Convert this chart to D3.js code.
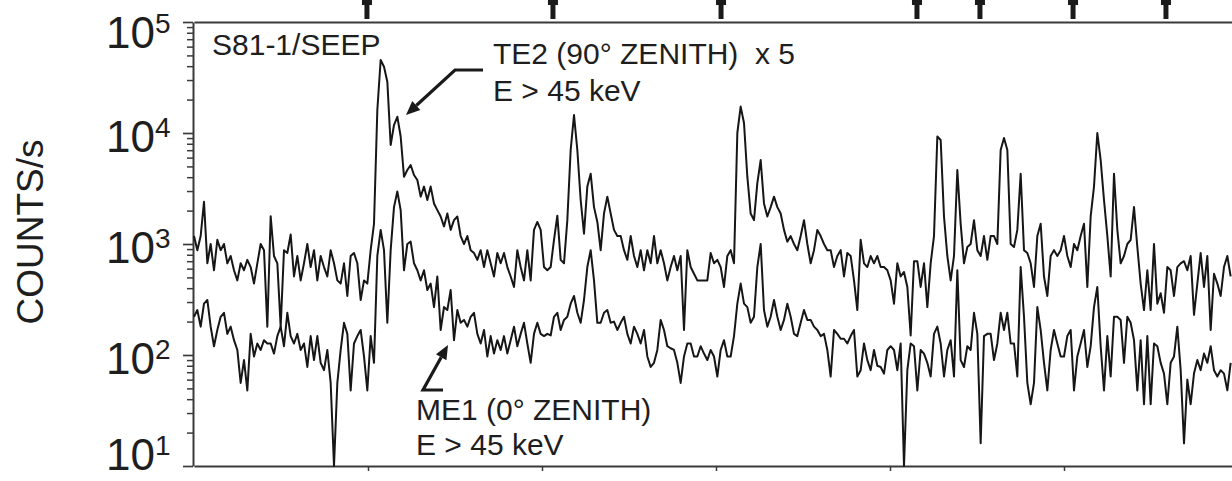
<!DOCTYPE html>
<html>
<head>
<meta charset="utf-8">
<script src="https://cdn.jsdelivr.net/npm/d3@7"></script>
<style>
  body { margin: 0; background: #fff; }
  svg text { font-family: "Liberation Sans", Arial, Helvetica, sans-serif; fill: #1e1e1e; }
</style>
</head>
<body>
<svg id="chart" width="1232" height="481"></svg>
<script>
// TE2 (90 deg zenith) x 5, E > 45 keV  -- counts/s, one sample every 1/52.2 tick unit
const te2Counts = [
  1180, 880, 1180, 2400, 670, 1000, 580, 1090, 880, 1000,
  670, 780, 580, 470, 670, 580, 720, 620, 440, 670,
  1000, 880, 180, 1780, 780, 670, 180, 880, 830, 1220,
  510, 780, 470, 670, 1000, 620, 880, 470, 780, 620,
  510, 880, 670, 470, 440, 670, 340, 780, 830, 670,
  313, 470, 440, 880, 1520, 16100, 45500, 39500, 29000, 7800,
  11800, 14000, 9300, 4040, 4640, 5150, 4180, 3770, 2670, 3290,
  2490, 3290, 2320, 2020, 1770, 1440, 1880, 1340, 1640, 1770,
  1180, 1000, 1180, 880, 830, 720, 880, 620, 880, 670,
  510, 830, 670, 830, 620, 510, 410, 880, 620, 470,
  880, 470, 1340, 1580, 1340,
  620, 580, 620, 1090, 1800, 720, 670, 1640, 7030, 14500,
  7030, 2490, 1240, 3290, 4300, 2150, 1580, 880, 1880, 2670,
  1880, 1340, 1180, 1180, 880, 720, 1180, 780, 620, 880,
  580, 880, 670, 1180, 670, 880, 670, 470, 620, 780,
  580, 780, 168, 880, 620, 540, 470, 470, 470, 470,
  830, 670, 720, 620, 410, 780, 880, 670, 10000, 17300,
  12300, 4040, 1880, 1640, 3540, 5700, 2320, 1770, 2150, 2670,
  2150, 1880, 1340, 1050, 1180, 1000, 880, 1180, 1640, 1000,
  670, 880, 1340, 1180, 1000, 880, 880, 620, 780, 880,
  510, 830, 780, 470, 254, 1090, 670, 620, 780, 670,
  780, 620,
  620, 580, 470, 290, 670, 510, 560, 410, 150, 700,
  700, 410, 670, 270, 670, 1180, 9300, 8650, 1770, 780,
  470, 780, 4640, 1520, 670, 940, 1000, 1640, 880, 780,
  1180, 720, 1180, 1180, 1000, 7030, 9000, 7030, 1000, 940,
  1340, 4300, 880, 830, 670, 410, 1180, 1520, 510, 340,
  780, 880, 780, 880, 1180, 780, 620, 1000, 880, 1180,
  1520, 410, 1770, 3290, 10000, 5700, 2490, 1180, 510, 4300,
  1340, 670, 780, 1000, 1090, 2150, 940, 440, 254, 580,
  254, 1000, 290, 360, 240, 620, 580, 340, 620, 670,
  700, 580, 780, 230, 440, 830, 410, 780, 168, 540,
  440, 340, 620, 780, 510
];

// ME1 (0 deg zenith), E > 45 keV
const me1Counts = [
  221, 254, 180, 290, 313, 180, 120, 168, 221, 240,
  155, 180, 136, 111, 56, 90, 48, 155, 97, 127,
  111, 136, 127, 127, 103, 148, 180, 120, 240, 148,
  127, 155, 111, 127, 78, 148, 90, 148, 85, 73,
  111, 56, 10, 56, 111, 195, 155, 48, 127, 148,
  168, 97, 48, 148, 85, 780, 1340, 880, 195, 880,
  2150, 2970, 2020, 580, 1000, 1050, 670, 580, 470, 580,
  385, 440, 270, 510, 168, 270, 254, 385, 136, 254,
  195, 207, 180, 221, 240, 155, 127, 168, 97, 148,
  103, 136, 111, 148, 103, 136, 180, 120, 155, 195,
  127, 85, 155, 195, 155,
  148, 155, 150, 221, 240, 168, 207, 221, 290, 340,
  240, 195, 313, 620, 880, 470, 195, 195, 240, 254,
  195, 200, 168, 195, 221, 155, 127, 180, 155, 127,
  168, 97, 78, 85, 111, 207, 168, 120, 115, 111,
  85, 56, 97, 127, 127, 97, 97, 120, 103, 90,
  111, 97, 64, 111, 136, 97, 97, 148, 290, 440,
  290, 270, 195, 221, 620, 1000, 254, 180, 221, 313,
  221, 168, 207, 290, 221, 155, 148, 195, 254, 207,
  207, 180, 168, 148, 155, 111, 64, 168, 155, 140,
  140, 127, 148, 168, 64, 73, 127, 90, 73, 111,
  80, 78,
  68, 111, 120, 111, 73, 127, 10, 73, 127, 120,
  48, 111, 103, 85, 64, 155, 180, 127, 64, 111,
  136, 64, 580, 90, 78, 120, 111, 240, 155, 16,
  148, 155, 155, 90, 127, 240, 168, 240, 127, 127,
  64, 620, 221, 56, 36, 56, 270, 168, 85, 48,
  111, 168, 127, 97, 97, 148, 168, 48, 97, 127,
  168, 78, 120, 270, 410, 120, 48, 148, 64, 221,
  221, 207, 85, 221, 195, 136, 48, 136, 36, 148,
  36, 127, 120, 85, 68, 36, 85, 97, 180, 73,
  16, 60, 36, 68, 90, 73, 103, 85, 120, 73,
  64, 73, 68, 48, 85
];

const samplesPerUnit = 52.2;
const yTickValues = [10, 100, 1000, 10000, 100000];
const xTickValues = [1, 2, 3, 4, 5];
const eventMarkers = [0.994, 2.063, 3.029, 4.155, 4.517, 5.052, 5.586];

const svg = d3.select('#chart');
const plotLeft = 194, plotTop = 22, plotBottom = 466;

const x = d3.scaleLinear().domain([0, 6]).range([plotLeft, plotLeft + 6 * 174]);
const y = d3.scaleLog().domain([10, 1e5]).range([plotBottom, plotTop]);

// minor log ticks
const minorTicks = [];
[10, 100, 1000, 10000].forEach(function(d) {
  for (let k = 2; k <= 9; k++) minorTicks.push(d * k);
});

const axisColour = '#3a3a3a';

svg.append('g')
   .attr('transform', 'translate(' + (plotLeft - 1) + ',0)')
   .style('color', axisColour)
   .call(d3.axisLeft(y).tickValues(minorTicks).tickSize(6).tickSizeOuter(0).tickFormat(''))
   .call(function(g) { g.select('.domain').attr('stroke-width', 2) })
   .call(function(g) { g.selectAll('.tick line').attr('stroke-width', 1.5) });

svg.append('g')
   .attr('transform', 'translate(' + (plotLeft - 1) + ',0)')
   .style('color', axisColour)
   .call(d3.axisLeft(y).tickValues(yTickValues).tickSize(10).tickSizeOuter(0).tickFormat(''))
   .call(function(g) { g.select('.domain').remove() })
   .call(function(g) { g.selectAll('.tick line').attr('stroke-width', 1.7) });

svg.append('g')
   .attr('transform', 'translate(0,' + plotBottom + ')')
   .style('color', axisColour)
   .call(d3.axisBottom(x).tickValues(xTickValues).tickSize(5).tickSizeOuter(0).tickFormat(''))
   .call(function(g) { g.select('.domain').attr('stroke-width', 2) })
   .call(function(g) { g.selectAll('.tick line').attr('stroke-width', 1.5) });

svg.append('g')
   .attr('transform', 'translate(0,' + plotTop + ')')
   .style('color', axisColour)
   .call(d3.axisTop(x).tickValues([]).tickSizeOuter(0))
   .call(function(g) { g.select('.domain').attr('stroke-width', 2) });

// y tick labels 10^n
const yLabels = svg.append('g').selectAll('text')
   .data(yTickValues)
   .join('text')
   .attr('x', 106)
   .attr('y', function(d) { return Math.min(Math.max(y(d) + 19, 48), 470) })
   .style('font-size', '44px');
yLabels.append('tspan').text('10');
yLabels.append('tspan')
   .attr('dy', -15)
   .style('font-size', '28px')
   .text(function(d) { return Math.round(Math.log10(d)) });

svg.append('text')
   .attr('transform', 'translate(30,232) rotate(-90)')
   .attr('text-anchor', 'middle')
   .attr('dominant-baseline', 'central')
   .style('font-size', '37px')
   .text('COUNTS/s');

// event markers above the frame
svg.append('g').selectAll('path')
   .data(eventMarkers)
   .join('path')
   .attr('d', function(d) {
     const cx = x(d)
     return 'M' + (cx - 5) + ',0H' + (cx + 5) + 'V5H' + (cx + 2.5) + 'V19H' + (cx - 2.5) + 'V5H' + (cx - 5) + 'Z'
   })
   .attr('fill', '#1a1a1a');

// traces
const line = d3.line()
   .x(function(d, i) { return x(i / samplesPerUnit) })
   .y(function(d) { return y(d) });

[te2Counts, me1Counts].forEach(function(series) {
  svg.append('path')
     .datum(series)
     .attr('d', line)
     .attr('fill', 'none')
     .attr('stroke', '#161616')
     .attr('stroke-width', 2)
     .attr('stroke-linejoin', 'round');
});

// labels
function label(xPos, yPos, lines, gap) {
  const t = svg.append('text').attr('x', xPos).attr('y', yPos).style('font-size', '30px');
  lines.forEach(function(s, i) {
    t.append('tspan').attr('x', xPos).attr('dy', i === 0 ? 0 : gap).attr('xml:space', 'preserve').text(s);
  });
}
label(212, 55, ['S81-1/SEEP'], 0);
label(493, 64, ['TE2 (90\u00b0 ZENITH)  x 5', 'E > 45 keV'], 37);
label(416, 420, ['ME1 (0\u00b0 ZENITH)', 'E > 45 keV'], 35);

function arrow(pts) {
  const n = pts.length;
  const tip = pts[n - 1], prev = pts[n - 2];
  const ang = Math.atan2(tip[1] - prev[1], tip[0] - prev[0]);
  const len = 14, half = 6;
  const base = [tip[0] - len * Math.cos(ang), tip[1] - len * Math.sin(ang)];
  const shaft = pts.slice(0, n - 1).concat([base]);
  svg.append('path')
     .attr('d', d3.line()(shaft))
     .attr('fill', 'none')
     .attr('stroke', '#1a1a1a')
     .attr('stroke-width', 3.2);
  const p1 = [base[0] + half * Math.sin(ang), base[1] - half * Math.cos(ang)];
  const p2 = [base[0] - half * Math.sin(ang), base[1] + half * Math.cos(ang)];
  svg.append('path')
     .attr('d', 'M' + tip + 'L' + p1 + 'L' + p2 + 'Z')
     .attr('fill', '#1a1a1a');
}
arrow([[483, 70], [455, 70], [406, 115]]);
arrow([[443, 390], [423, 390], [448, 345]]);
</script>
</body>
</html>
